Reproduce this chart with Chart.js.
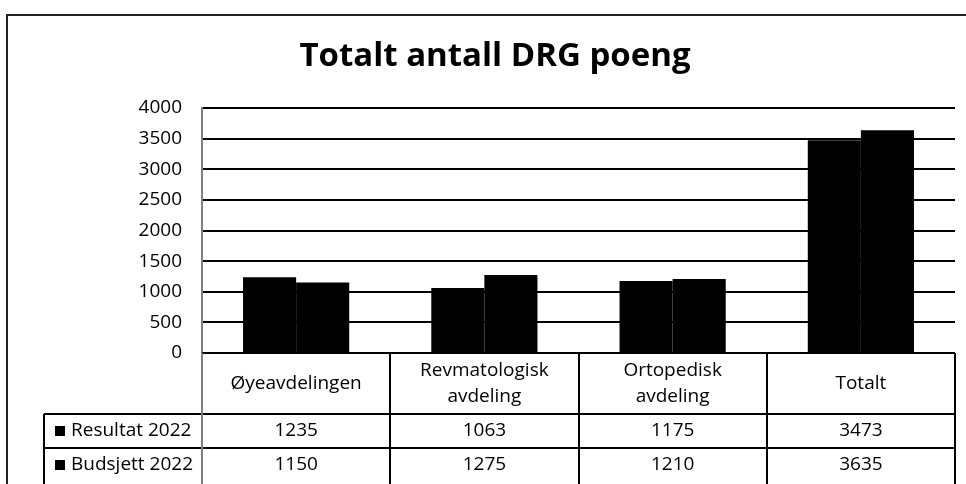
<!DOCTYPE html>
<html>
<head>
<meta charset="utf-8">
<script src="https://cdn.jsdelivr.net/npm/chart.js@4.4.0/dist/chart.umd.min.js"></script>
<style>
  html, body { margin: 0; padding: 0; background: #fff; }
  #wrap { width: 966px; height: 484px; }
</style>
</head>
<body>
<div id="wrap"><canvas id="drg"></canvas></div>
<script>
var categories = [['Øyeavdelingen'], ['Revmatologisk', 'avdeling'], ['Ortopedisk', 'avdeling'], ['Totalt']];
var resultat = [1235, 1063, 1175, 3473];
var budsjett = [1150, 1275, 1210, 3635];
var seriesNames = ['Resultat 2022', 'Budsjett 2022'];
var yTicks = [0, 500, 1000, 1500, 2000, 2500, 3000, 3500, 4000];

var FONT = '"Open Sans"';

// frame around the chart (left + top only, rest runs off the picture)
var framePlugin = {
  id: 'frame',
  beforeDraw: function(chart) {
    var c = chart.ctx;
    c.save();
    c.fillStyle = '#fff';
    c.fillRect(0, 0, chart.width, chart.height);
    c.strokeStyle = '#222';
    c.lineWidth = 2;
    c.beginPath();
    c.moveTo(7, chart.height + 5);
    c.lineTo(7, 15);
    c.lineTo(chart.width + 5, 15);
    c.stroke();
    c.restore();
  }
};

// data table under the plot
var tablePlugin = {
  id: 'dataTable',
  afterDraw: function(chart) {
    var c = chart.ctx;
    var area = chart.chartArea;
    var xs = chart.scales.x;
    var n = categories.length;
    var step = (area.right - area.left) / n;
    var top = area.bottom;
    var headBottom = top + 61;
    var row1 = headBottom + 34;
    var row2 = row1 + 34;
    var tableLeft = 44;
    var rows = [resultat, budsjett];

    c.save();
    c.strokeStyle = '#000';
    c.lineWidth = 2;
    c.beginPath();
    c.moveTo(area.left, top); c.lineTo(area.right, top);
    c.moveTo(tableLeft, headBottom); c.lineTo(area.right, headBottom);
    c.moveTo(tableLeft, row1); c.lineTo(area.right, row1);
    for (var i = 1; i <= n; i++) {
      var x = Math.round(area.left + step * i);
      c.moveTo(x, top); c.lineTo(x, chart.height + 5);
    }
    c.moveTo(tableLeft, headBottom); c.lineTo(tableLeft, chart.height + 5);
    c.stroke();
    c.strokeStyle = '#808080';
    c.beginPath();
    c.moveTo(area.left, top); c.lineTo(area.left, chart.height + 5);
    c.stroke();

    c.fillStyle = '#000';
    c.textAlign = 'center';
    c.textBaseline = 'middle';
    c.font = '19px ' + FONT;
    categories.forEach(function(lines, i) {
      var cx = xs.getPixelForValue(i);
      var midY = (top + headBottom) / 2;
      var lh = 26;
      lines.forEach(function(t, j) {
        c.fillText(t, cx, midY + (j - (lines.length - 1) / 2) * lh);
      });
      rows.forEach(function(vals, r) {
        var y = r === 0 ? (headBottom + row1) / 2 : (row1 + row2) / 2;
        c.fillText(String(vals[i]), cx, y);
      });
    });

    c.textAlign = 'left';
    seriesNames.forEach(function(name, r) {
      var y = r === 0 ? (headBottom + row1) / 2 : (row1 + row2) / 2;
      c.fillRect(55, Math.round(y - 5), 10, 10);
      c.fillText(name, 71, y);
    });
    c.restore();
  }
};

var ctx = document.getElementById('drg').getContext('2d');
var myChart = new Chart(ctx, {
  type: 'bar',
  data: {
    labels: categories,
    datasets: [
      { label: seriesNames[0], data: resultat, backgroundColor: '#000', borderWidth: 0 },
      { label: seriesNames[1], data: budsjett, backgroundColor: '#000', borderWidth: 0 }
    ]
  },
  options: {
    responsive: true,
    maintainAspectRatio: false,
    animation: false,
    layout: { padding: { left: 35, right: 11, top: 0, bottom: 131 } },
    datasets: { bar: { barPercentage: 1.0, categoryPercentage: 0.564 } },
    plugins: {
      legend: { display: false },
      tooltip: { enabled: false },
      title: {
        display: true,
        text: 'Totalt antall DRG poeng',
        color: '#000',
        font: { family: FONT, size: 33, weight: 'bold', lineHeight: 1.2 },
        padding: { top: 37, bottom: 31.4 }
      }
    },
    scales: {
      x: { display: false },
      y: {
        min: 0,
        max: 4000,
        afterBuildTicks: function(axis) {
          axis.ticks = yTicks.map(function(v) { return { value: v }; });
        },
        afterFit: function(axis) { axis.width = 167; },
        border: { display: true, color: '#808080', width: 2 },
        grid: { color: '#000', lineWidth: 2, drawTicks: false },
        ticks: {
          color: '#000',
          padding: 20,
          font: { family: FONT, size: 19 },
          callback: function(v) { return String(v); }
        }
      }
    }
  },
  plugins: [framePlugin, tablePlugin]
});
</script>
</body>
</html>
